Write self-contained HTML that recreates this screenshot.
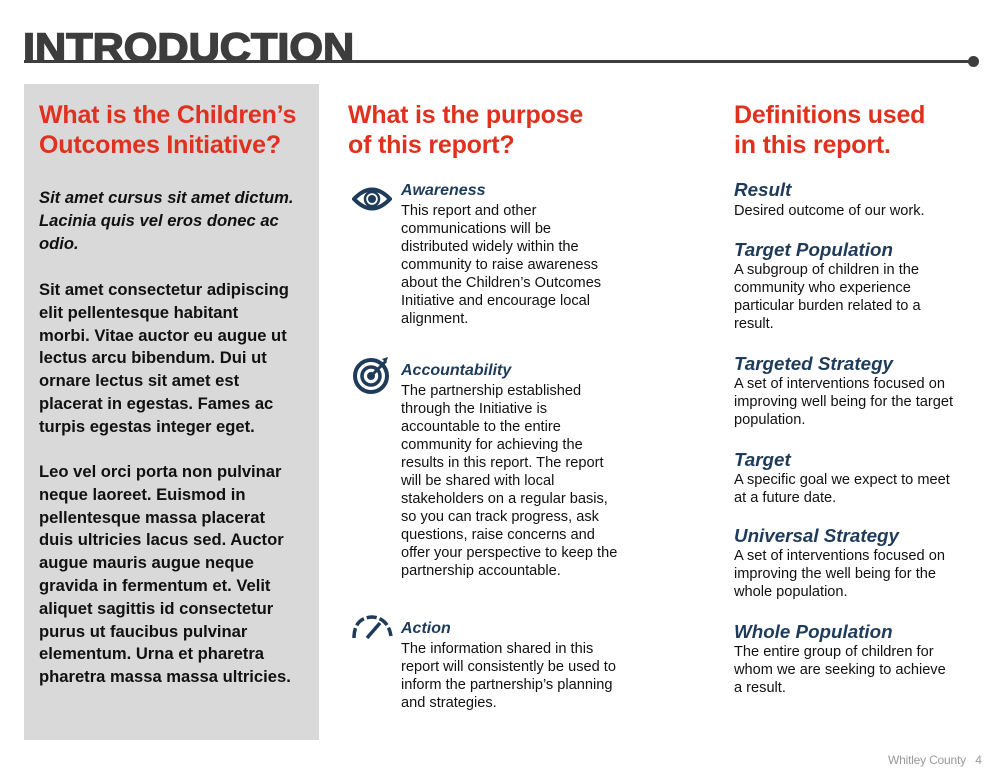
<!DOCTYPE html>
<html><head><meta charset="utf-8"><style>
body{margin:0;width:1000px;height:773px;background:#fff;position:relative;overflow:hidden;font-family:"Liberation Sans",Arial,sans-serif}
.a{position:absolute;margin:0}
.h{color:#e0301e;font-weight:bold;font-size:25px;line-height:30px;letter-spacing:-0.2px}
.lb{font-weight:bold;font-size:16.6px;line-height:22.8px;color:#111;left:39px;width:290px;white-space:nowrap}
.it{font-style:italic;font-weight:bold;color:#1f3b5a}
.t{font-size:16px;line-height:18px}
.rt{font-size:18.8px;line-height:22px}
.b{font-size:14.6px;line-height:18px;color:#111;white-space:nowrap}
</style></head><body>
<div class="a" style="left:23px;top:26px;font-size:40px;font-weight:900;color:#3d3d3d;line-height:44px;-webkit-text-stroke:1.5px #3d3d3d;transform:scaleX(1.08);transform-origin:0 0">INTRODUCTION</div>
<div class="a" style="left:24px;top:60px;width:950px;height:3px;background:#3d3d3d"></div>
<div class="a" style="left:968px;top:56px;width:11px;height:11px;border-radius:50%;background:#3d3d3d"></div>

<div class="a" style="left:24px;top:84px;width:295px;height:656px;background:#d9d9d9"></div>
<div class="a h" style="left:39px;top:100px">What is the Children’s<br>Outcomes Initiative?</div>
<div class="a lb" style="top:187px;font-style:italic">Sit amet cursus sit amet dictum.<br>Lacinia quis vel eros donec ac<br>odio.</div>
<div class="a lb" style="top:279px">Sit amet consectetur adipiscing<br>elit pellentesque habitant<br>morbi. Vitae auctor eu augue ut<br>lectus arcu bibendum. Dui ut<br>ornare lectus sit amet est<br>placerat in egestas. Fames ac<br>turpis egestas integer eget.</div>
<div class="a lb" style="top:461px">Leo vel orci porta non pulvinar<br>neque laoreet. Euismod in<br>pellentesque massa placerat<br>duis ultricies lacus sed. Auctor<br>augue mauris augue neque<br>gravida in fermentum et. Velit<br>aliquet sagittis id consectetur<br>purus ut faucibus pulvinar<br>elementum. Urna et pharetra<br>pharetra massa massa ultricies.</div>

<div class="a h" style="left:348px;top:100px">What is the purpose<br>of this report?</div>
<svg class="a" style="left:352px;top:186px" width="40" height="26" viewBox="0 0 40 26"><path d="M2 13 Q20 -6 38 13 Q20 32 2 13Z" fill="none" stroke="#1f3b5a" stroke-width="4"/><circle cx="20" cy="13" r="7" fill="none" stroke="#1f3b5a" stroke-width="2.5"/><circle cx="20" cy="13" r="4" fill="#1f3b5a"/></svg>
<div class="a it t" style="left:401px;top:182px">Awareness</div>
<div class="a b" style="left:401px;top:202px">This report and other<br>communications will be<br>distributed widely within the<br>community to raise awareness<br>about the Children’s Outcomes<br>Initiative and encourage local<br>alignment.</div>
<svg class="a" style="left:352px;top:355px" width="40" height="40" viewBox="0 0 40 40"><circle cx="19" cy="21" r="16" fill="none" stroke="#1f3b5a" stroke-width="4"/><circle cx="19" cy="21" r="9" fill="none" stroke="#1f3b5a" stroke-width="3.5"/><circle cx="19" cy="21" r="4" fill="#1f3b5a"/><path d="M19 21 L34 6" stroke="#1f3b5a" stroke-width="3"/><path d="M30 4 L36 2 L34 8Z" fill="#1f3b5a"/></svg>
<div class="a it t" style="left:401px;top:362px">Accountability</div>
<div class="a b" style="left:401px;top:382px">The partnership established<br>through the Initiative is<br>accountable to the entire<br>community for achieving the<br>results in this report. The report<br>will be shared with local<br>stakeholders on a regular basis,<br>so you can track progress, ask<br>questions, raise concerns and<br>offer your perspective to keep the<br>partnership accountable.</div>
<svg class="a" style="left:350px;top:614px" width="44" height="26" viewBox="0 0 44 26"><path d="M4 24 Q4 4 22 3 Q38 4 41 22" fill="none" stroke="#1f3b5a" stroke-width="3.5" stroke-dasharray="10 3"/><path d="M17 24 L30 9" stroke="#1f3b5a" stroke-width="3.5"/></svg>
<div class="a it t" style="left:401px;top:620px">Action</div>
<div class="a b" style="left:401px;top:640px">The information shared in this<br>report will consistently be used to<br>inform the partnership’s planning<br>and strategies.</div>

<div class="a h" style="left:734px;top:100px">Definitions used<br>in this report.</div>
<div class="a it rt" style="left:734px;top:179px">Result</div>
<div class="a b" style="left:734px;top:202px">Desired outcome of our work.</div>
<div class="a it rt" style="left:734px;top:239px">Target Population</div>
<div class="a b" style="left:734px;top:261px">A subgroup of children in the<br>community who experience<br>particular burden related to a<br>result.</div>
<div class="a it rt" style="left:734px;top:353px">Targeted Strategy</div>
<div class="a b" style="left:734px;top:375px">A set of interventions focused on<br>improving well being for the target<br>population.</div>
<div class="a it rt" style="left:734px;top:449px">Target</div>
<div class="a b" style="left:734px;top:471px">A specific goal we expect to meet<br>at a future date.</div>
<div class="a it rt" style="left:734px;top:525px">Universal Strategy</div>
<div class="a b" style="left:734px;top:547px">A set of interventions focused on<br>improving the well being for the<br>whole population.</div>
<div class="a it rt" style="left:734px;top:621px">Whole Population</div>
<div class="a b" style="left:734px;top:643px">The entire group of children for<br>whom we are seeking to achieve<br>a result.</div>

<div class="a" style="left:888px;top:753px;font-size:12px;color:#999;letter-spacing:-0.2px">Whitley County&nbsp;&nbsp; 4</div>
</body></html>
